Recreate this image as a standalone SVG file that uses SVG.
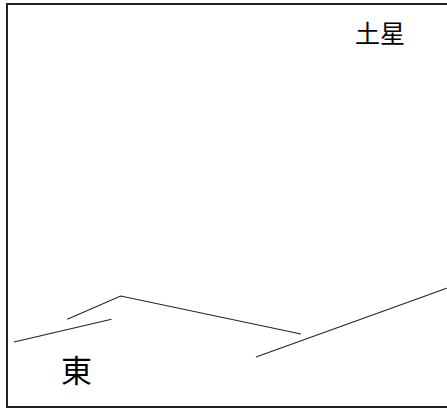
<svg xmlns="http://www.w3.org/2000/svg" width="447" height="410" viewBox="0 0 447 410">
<style>
.t{font-family:"Noto Sans CJK JP","Noto Sans CJK SC",sans-serif;fill:#000;font-weight:400}
.l{fill:none;stroke:#222;stroke-width:1.1}
</style>
<rect x="0" y="0" width="447" height="410" fill="#fff"/>
<g id="frame"><rect x="7" y="4" width="450" height="403" fill="none" stroke="#222" stroke-width="2"/></g>
<g id="connectors">
<line class="l" x1="14" y1="342" x2="111.5" y2="319.3"/>
<polyline class="l" points="67.3,319.3 120.7,296 301,334"/>
<line class="l" x1="256" y1="357" x2="446.7" y2="288.3"/>
</g>
<g id="label-saturn"><text class="t" x="355" y="43" font-size="25">土星</text></g>
<g id="label-east"><text class="t" x="61" y="382" font-size="31">東</text></g>
</svg>
